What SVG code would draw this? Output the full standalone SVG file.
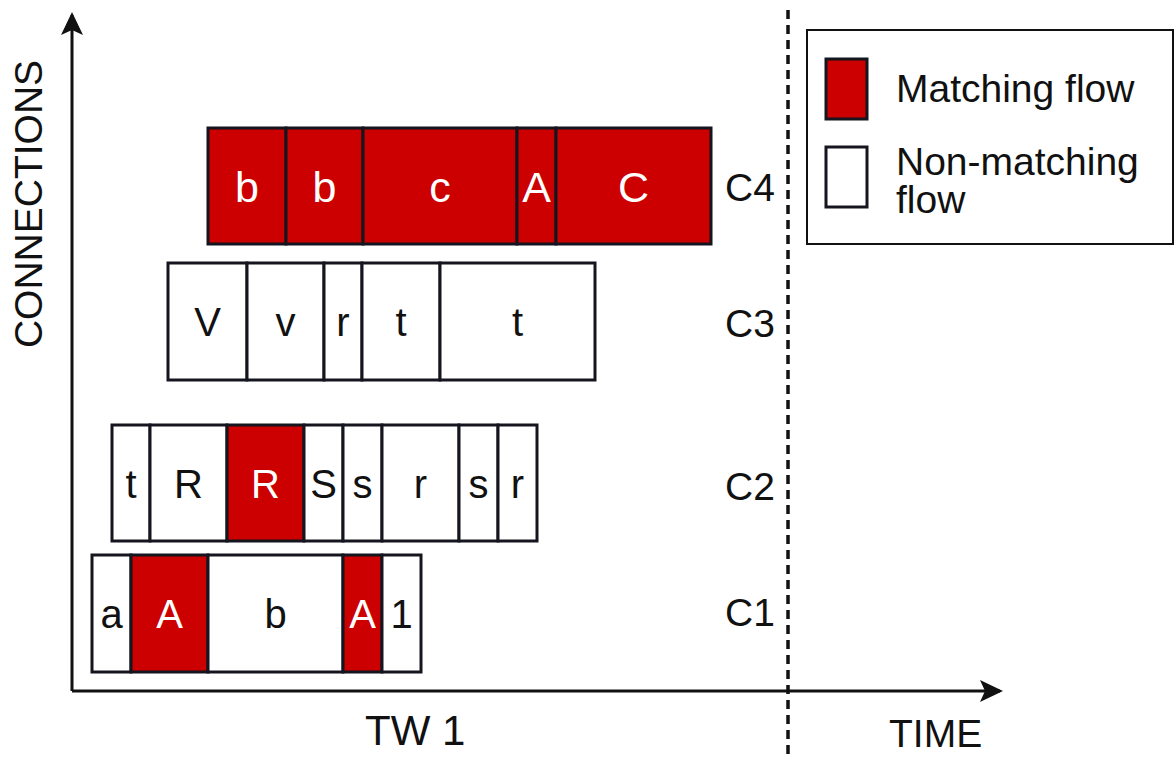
<svg xmlns="http://www.w3.org/2000/svg" width="1176" height="760" viewBox="0 0 1176 760">
  <defs>
    <style>
      text { font-family: "Liberation Sans", Arial, sans-serif; fill: #111; }
      .cell { stroke: #15151f; stroke-width: 3; }
      .match { fill: #cc0000; }
      .plain { fill: #ffffff; }
      .lt { font-size: 40px; text-anchor: middle; }
      .lt-w { font-size: 40px; text-anchor: middle; fill: #ffffff; }
      .lt-big { font-size: 43px; text-anchor: middle; fill: #ffffff; }
      .row-label { font-size: 39px; }
      .axis { stroke: #111; stroke-width: 3; fill: none; }
      .legend-text { font-size: 39px; }
    </style>
    <marker id="arrow" viewBox="0 0 24 24" markerUnits="userSpaceOnUse" markerWidth="24" markerHeight="24" refX="20" refY="12" orient="auto">
      <path d="M23,12 L0,1 L5,12 L0,23 Z" fill="#111"/>
    </marker>
  </defs>

  <rect width="1176" height="760" fill="#ffffff"/>

  <!-- axes and time-window boundary -->
  <g id="connectors">
    <line class="axis" x1="72" y1="691" x2="72" y2="15" marker-end="url(#arrow)"/>
    <line class="axis" x1="72" y1="691" x2="1000" y2="691" marker-end="url(#arrow)"/>
    <line x1="788" y1="10" x2="788" y2="760" stroke="#111" stroke-width="3.5" stroke-dasharray="9 6"/>
  </g>

  <!-- axis titles -->
  <text transform="translate(42,204) rotate(-90)" font-size="39" text-anchor="middle">CONNECTIONS</text>
  <text x="365" y="745" font-size="42">TW 1</text>
  <text x="889" y="747" font-size="39">TIME</text>

  <!-- connection C4 -->
  <g id="conn-c4">
    <g id="c4-1"><rect class="cell match" x="208" y="128" width="78" height="116"/><text class="lt-big" x="247" y="202">b</text></g>
    <g id="c4-2"><rect class="cell match" x="286" y="128" width="77" height="116"/><text class="lt-big" x="324.5" y="202">b</text></g>
    <g id="c4-3"><rect class="cell match" x="363" y="128" width="154" height="116"/><text class="lt-big" x="440" y="202">c</text></g>
    <g id="c4-4"><rect class="cell match" x="517" y="128" width="39" height="116"/><text class="lt-big" x="536.5" y="202">A</text></g>
    <g id="c4-5"><rect class="cell match" x="556" y="128" width="155" height="116"/><text class="lt-big" x="633.5" y="202">C</text></g>
    <text class="row-label" x="725" y="201">C4</text>
  </g>

  <!-- connection C3 -->
  <g id="conn-c3">
    <g id="c3-1"><rect class="cell plain" x="168" y="263" width="79" height="117"/><text class="lt" x="207.5" y="336">V</text></g>
    <g id="c3-2"><rect class="cell plain" x="247" y="263" width="77" height="117"/><text class="lt" x="285.5" y="336">v</text></g>
    <g id="c3-3"><rect class="cell plain" x="324" y="263" width="38" height="117"/><text class="lt" x="343" y="336">r</text></g>
    <g id="c3-4"><rect class="cell plain" x="362" y="263" width="78" height="117"/><text class="lt" x="401" y="336">t</text></g>
    <g id="c3-5"><rect class="cell plain" x="440" y="263" width="155" height="117"/><text class="lt" x="517.5" y="336">t</text></g>
    <text class="row-label" x="725" y="337">C3</text>
  </g>

  <!-- connection C2 -->
  <g id="conn-c2">
    <g id="c2-1"><rect class="cell plain" x="112" y="425" width="38" height="116"/><text class="lt" x="131" y="498">t</text></g>
    <g id="c2-2"><rect class="cell plain" x="150" y="425" width="77" height="116"/><text class="lt" x="188.5" y="498">R</text></g>
    <g id="c2-3"><rect class="cell match" x="227" y="425" width="77" height="116"/><text class="lt-w" x="265.5" y="498">R</text></g>
    <g id="c2-4"><rect class="cell plain" x="304" y="425" width="39" height="116"/><text class="lt" x="323.5" y="498">S</text></g>
    <g id="c2-5"><rect class="cell plain" x="343" y="425" width="39" height="116"/><text class="lt" x="362.5" y="498">s</text></g>
    <g id="c2-6"><rect class="cell plain" x="382" y="425" width="77" height="116"/><text class="lt" x="420.5" y="498">r</text></g>
    <g id="c2-7"><rect class="cell plain" x="459" y="425" width="39" height="116"/><text class="lt" x="478.5" y="498">s</text></g>
    <g id="c2-8"><rect class="cell plain" x="498" y="425" width="39" height="116"/><text class="lt" x="517.5" y="498">r</text></g>
    <text class="row-label" x="725" y="500">C2</text>
  </g>

  <!-- connection C1 -->
  <g id="conn-c1">
    <g id="c1-1"><rect class="cell plain" x="92" y="555" width="39" height="117"/><text class="lt" x="111.5" y="628">a</text></g>
    <g id="c1-2"><rect class="cell match" x="131" y="555" width="77" height="117"/><text class="lt-w" x="169.5" y="628">A</text></g>
    <g id="c1-3"><rect class="cell plain" x="208" y="555" width="135" height="117"/><text class="lt" x="275.5" y="628">b</text></g>
    <g id="c1-4"><rect class="cell match" x="343" y="555" width="39" height="117"/><text class="lt-w" x="362.5" y="628">A</text></g>
    <g id="c1-5"><rect class="cell plain" x="382" y="555" width="39" height="117"/><text class="lt" x="401.5" y="628">1</text></g>
    <text class="row-label" x="725" y="626">C1</text>
  </g>

  <!-- legend -->
  <g id="legend">
    <rect x="807" y="30" width="366" height="214" fill="#ffffff" stroke="#111" stroke-width="2"/>
    <rect class="cell match" x="826" y="59" width="41" height="60"/>
    <rect class="cell plain" x="826" y="147" width="41" height="60"/>
    <text class="legend-text" x="896" y="102">Matching flow</text>
    <text class="legend-text" x="896" y="175">Non-matching<tspan x="896" dy="38">flow</tspan></text>
  </g>
</svg>
